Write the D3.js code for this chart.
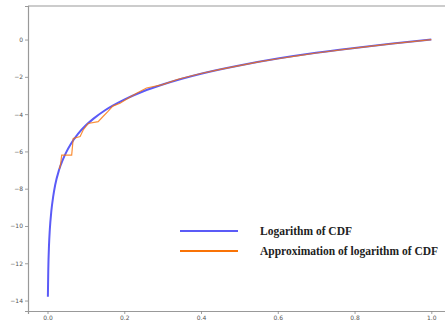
<!DOCTYPE html>
<html>
<head>
<meta charset="utf-8">
<script src="https://cdn.jsdelivr.net/npm/d3@7"></script>
<style>
  body { margin: 0; background: #fff; }
  .tick text { font-family: "DejaVu Sans", sans-serif; font-size: 6px; fill: #555; }
  .legend text { font-family: "Liberation Serif", serif; font-weight: bold; font-size: 11.5px; fill: #222; }
</style>
</head>
<body>
<div id="chart"></div>
<script>
// values: [x, log CDF]
const cdfLog = [
  [0.001, -13.8], [0.002, -12.4], [0.004, -11.0], [0.006, -10.2], [0.01, -9.2],
  [0.015, -8.4], [0.02, -7.8], [0.03, -7.0], [0.04, -6.44], [0.05, -6.0],
  [0.06, -5.63], [0.08, -5.05], [0.1, -4.6], [0.12, -4.24], [0.15, -3.79],
  [0.2, -3.22], [0.25, -2.77], [0.3, -2.41], [0.35, -2.1], [0.4, -1.83],
  [0.5, -1.39], [0.6, -1.02], [0.7, -0.71], [0.8, -0.45], [0.9, -0.21], [1.0, 0]
];
const approxLog = [
  [0.031, -6.95], [0.034, -6.7], [0.037, -6.2], [0.063, -6.2], [0.067, -5.3],
  [0.085, -5.2], [0.093, -4.85], [0.106, -4.5], [0.132, -4.4], [0.144, -4.14],
  [0.157, -3.87], [0.17, -3.57], [0.189, -3.42], [0.21, -3.15], [0.232, -2.88],
  [0.258, -2.6], [0.3, -2.42], [0.34, -2.13], [0.4, -1.82], [0.45, -1.6],
  [0.5, -1.4], [0.55, -1.2], [0.6, -1.03], [0.65, -0.88], [0.7, -0.72],
  [0.8, -0.46], [0.9, -0.22], [1.0, 0]
];
const xTicks = [0, 0.2, 0.4, 0.6, 0.8, 1.0];
const yTicks = [0, -2, -4, -6, -8, -10, -12, -14];
const legendLabels = ["Logarithm of CDF", "Approximation of logarithm of CDF"];

const W = 445, H = 321;
const margin = { left: 28, top: 6, bottom: 311 };
const svg = d3.select("#chart").append("svg").attr("width", W).attr("height", H);

const x = d3.scaleLinear().domain([-0.0508, 1.05]).range([margin.left, 450.5]);
const y = d3.scaleLinear().domain([-14.56, 1.8]).range([margin.bottom, margin.top]);

const fmt = (d) => d3.format(".1f")(d);
const xAxis = svg.append("g")
  .attr("transform", `translate(0,${margin.bottom})`)
  .call(d3.axisBottom(x).tickValues(xTicks).tickFormat(fmt).tickSize(3).tickPadding(1.5));
const yAxis = svg.append("g")
  .attr("transform", `translate(${margin.left},0)`)
  .call(d3.axisLeft(y).tickValues(yTicks).tickFormat((d) => d3.format("d")(d).replace("-", "\u2212")).tickSize(3).tickPadding(2));
[xAxis, yAxis].forEach((a) => {
  a.select(".domain").attr("stroke", "#999").attr("stroke-width", 1.2);
  a.selectAll(".tick line").attr("stroke", "#888").attr("stroke-width", 0.8);
});
// top spine
svg.append("line")
  .attr("x1", margin.left).attr("x2", W).attr("y1", margin.top).attr("y2", margin.top)
  .attr("stroke", "#999").attr("stroke-width", 1.2);

const line = d3.line().x((d) => x(d[0])).y((d) => y(d[1]));
svg.append("path")
  .datum(cdfLog)
  .attr("fill", "none")
  .attr("stroke", "#5b5bf7")
  .attr("stroke-width", 2)
  .attr("d", line.curve(d3.curveMonotoneX));
svg.append("path")
  .datum(approxLog)
  .attr("fill", "none")
  .attr("stroke", "#f97306")
  .attr("stroke-opacity", 0.8)
  .attr("stroke-width", 1.2)
  .attr("d", d3.line().x((d) => x(d[0])).y((d) => y(d[1])));

const legend = svg.append("g").attr("class", "legend");
const colors = ["#5b5bf7", "#f97306"];
legendLabels.forEach((t, i) => {
  const ly = 231 + i * 20;
  legend.append("line")
    .attr("x1", 180).attr("x2", 238).attr("y1", ly).attr("y2", ly)
    .attr("stroke", colors[i]).attr("stroke-width", 2.2);
  legend.append("text")
    .attr("x", 260).attr("y", ly + 4)
    .text(t);
});
</script>
</body>
</html>
